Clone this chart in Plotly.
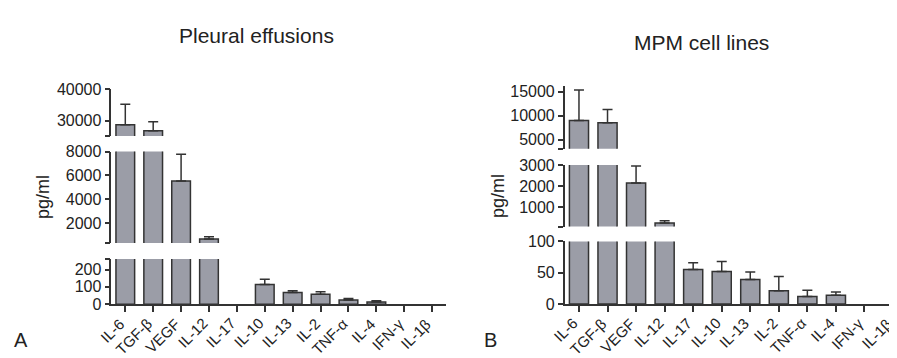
import plotly.graph_objects as go

# ---------------- data ----------------
categories = ["IL-6", "TGF-β", "VEGF", "IL-12", "IL-17", "IL-10", "IL-13",
              "IL-2", "TNF-α", "IL-4", "IFN-γ", "IL-1β"]

# Panel A: pleural effusions (pg/ml), mean and top of error bar
effusion_mean = [28700, 26800, 5520, 660, 0, 113, 68, 57, 24, 13, 0, 0]
effusion_top = [35250, 29700, 7780, 850, 0, 144, 77, 72, 33, 19, 0, 0]

# Panel B: MPM cell lines (pg/ml)
cells_mean = [9000, 8540, 2150, 245, 55, 52, 39, 21, 12, 14, 0, 0]
cells_top = [15300, 11300, 2950, 350, 66, 68, 51, 44, 22, 19, 0, 0]

# broken-axis segments: (range, tickvals, ticktext)
a_segments = [
    ([0, 262], [0, 100, 200, 262], ["0", "100", "200", ""]),
    ([320, 8000], [320, 2000, 4000, 6000, 8000], ["", "2000", "4000", "6000", "8000"]),
    ([25150, 40000], [25150, 30000, 40000], ["", "30000", "40000"]),
]
b_segments = [
    ([0, 100], [0, 50, 100], ["0", "50", "100"]),
    ([81, 3000], [81, 1000, 2000, 3000], ["", "1000", "2000", "3000"]),
    ([3166, 16045], [3166, 5000, 10000, 15000], ["", "5000", "10000", "15000"]),
]

# ---------------- layout geometry (pixels) ----------------
W, H = 897, 358
a_xpx = (103.35, 438.1)
b_xpx = (556.7, 897)
a_ypx = [(255, 302.5), (142.3, 238.3), (77, 126)]
b_ypx = [(236.7, 302.3), (156.5, 221), (74, 139.3)]

BAR = "#9b9da7"
INK = "#333333"
TXT = "#222222"
FONT = "Liberation Sans, Arial, Helvetica, sans-serif"


def ydom(p):
    return [1 - p[1] / H, 1 - p[0] / H]


fig = go.Figure()
layout = dict(
    width=W, height=H, autosize=False,
    margin=dict(l=0, r=0, t=0, b=0),
    paper_bgcolor="white", plot_bgcolor="white",
    showlegend=False,
    font=dict(family=FONT, size=16, color=TXT),
)

annotations = []

panels = [
    ("x", a_xpx, a_segments, a_ypx, effusion_mean, effusion_top, [-0.5, 11.5], 1),
    ("x2", b_xpx, b_segments, b_ypx, cells_mean, cells_top, [-0.5, 11.42], 4),
]

for xname, xpx, segs, ypx, mean, top, xr, y0 in panels:
    xkey = "xaxis" if xname == "x" else "xaxis" + xname[1:]
    for i, (rng, tv, tt) in enumerate(segs):
        lo = rng[0]
        seg_y = [m if m > lo else None for m in mean]
        seg_err = [(t - m) if m > lo else None for t, m in zip(top, mean)]
        seg_minus = [0 if m > lo else None for m in mean]
        yi = y0 + i
        yname = "y" if yi == 1 else f"y{yi}"
        ykey = "yaxis" if yi == 1 else f"yaxis{yi}"
        fig.add_trace(go.Bar(
            x=categories, y=seg_y, xaxis=xname, yaxis=yname,
            width=0.67,
            marker=dict(color=BAR, line=dict(color=INK, width=1.5)),
            error_y=dict(type="data", symmetric=False, array=seg_err,
                         arrayminus=seg_minus, color=INK,
                         thickness=1.5, width=5),
            hoverinfo="skip",
        ))
        layout[ykey] = dict(
            domain=ydom(ypx[i]), anchor=xname, range=rng,
            tickmode="array", tickvals=tv, ticktext=tt,
            showgrid=False, zeroline=False, showline=True,
            linecolor=INK, linewidth=1.5, ticks="outside", ticklen=5,
            tickwidth=1.5, tickcolor=INK,
            tickfont=dict(size=16, color=TXT),
        )
    ybottom = "y" if y0 == 1 else f"y{y0}"
    layout[xkey] = dict(
        domain=[xpx[0] / W, xpx[1] / W], anchor=ybottom, range=xr,
        type="category", categoryorder="array", categoryarray=categories,
        showgrid=False, zeroline=False, showline=True,
        linecolor=INK, linewidth=1.5, ticks="outside", ticklen=6,
        tickwidth=1.5, tickcolor=INK, showticklabels=False,
    )
    # rotated category labels placed through the category axis
    axis_bottom = 1 - ypx[0][1] / H
    for c in categories:
        annotations.append(dict(
            text=c, xref=xname, yref="paper", x=c, y=axis_bottom,
            xanchor="right", yanchor="top", xshift=5, yshift=-8,
            textangle=-45, showarrow=False,
            font=dict(size=15, color=TXT, family=FONT),
        ))

labels = [
    dict(text="Pleural effusions", x=249 / W, y=1 - 20 / H, font=dict(size=21)),
    dict(text="MPM cell lines", x=693 / W, y=1 - 28 / H, font=dict(size=21)),
    dict(text="pg/ml", x=35 / W, y=1 - 190 / H, textangle=-90, font=dict(size=18)),
    dict(text="pg/ml", x=490 / W, y=1 - 189 / H, textangle=-90, font=dict(size=18)),
    dict(text="A", x=13 / W, y=1 - 340 / H, font=dict(size=20)),
    dict(text="B", x=482 / W, y=1 - 340 / H, font=dict(size=20)),
]
for a in labels:
    a.update(xref="paper", yref="paper", showarrow=False,
             xanchor="center", yanchor="middle")
    a["font"].update(color=TXT, family=FONT)
annotations.extend(labels)
layout["annotations"] = annotations

fig.update_layout(**layout)
fig.write_html("out.html")
